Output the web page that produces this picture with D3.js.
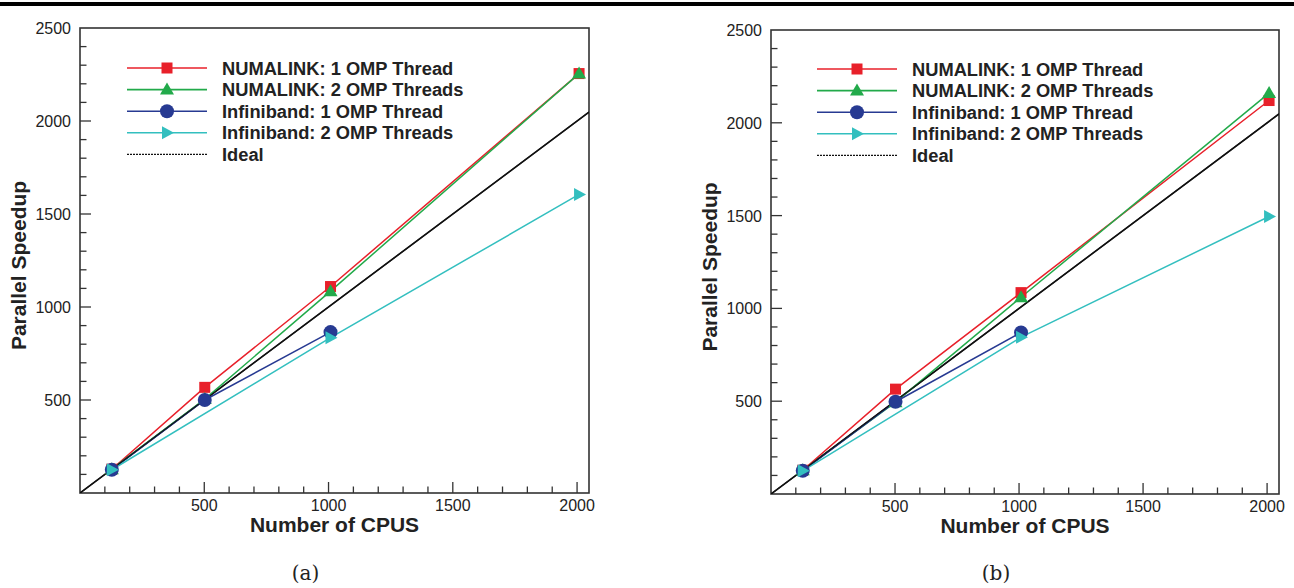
<!DOCTYPE html>
<html><head><meta charset="utf-8">
<script src="https://cdn.jsdelivr.net/npm/d3@7"></script>
<style>body{margin:0;background:#fff;}svg{display:block;font-family:"Liberation Sans",Arial,Helvetica,sans-serif;}</style>
</head><body>
<svg id="c" width="1294" height="588"></svg>
<script>
// ---- data ----
const seriesNames = ["NUMALINK: 1 OMP Thread","NUMALINK: 2 OMP Threads","Infiniband: 1 OMP Thread","Infiniband: 2 OMP Threads","Ideal"];
const seriesColors = ["#e8202a","#22aa4a","#273a92","#33bfbf","#111111"];
const seriesMarkers = ["square","triangle","circle","arrow","none"];
const xTicks = [500,1000,1500,2000];
const yTicks = [500,1000,1500,2000,2500];
const idealX = [0,2048];

// panel (a)
const aCpus4 = [128,502,1008,2008];
const aCpus3 = [128,502,1008];
const aCpus3b = [128,1008,2008];
const aNuma1 = [128,568,1110,2255];
const aNuma2 = [128,505,1085,2255];
const aInfi1 = [125,500,865];
const aInfi2 = [125,835,1605];

// panel (b)
const bCpus4 = [128,502,1008,2008];
const bCpus3 = [128,502,1008];
const bCpus3b = [128,1008,2008];
const bNuma1 = [128,565,1085,2120];
const bNuma2 = [128,495,1060,2160];
const bInfi1 = [125,497,870];
const bInfi2 = [125,845,1495];

const svg = d3.select("#c");
svg.append("rect").attr("x",0).attr("y",2).attr("width",1294).attr("height",4).attr("fill","#000");

function marker(g, type, x, y, color){
  if(type==="square") g.append("rect").attr("x",x-5.5).attr("y",y-5.5).attr("width",11).attr("height",11).attr("fill",color);
  else if(type==="triangle") g.append("path").attr("d",`M${x},${y-7}L${x+7},${y+5}L${x-7},${y+5}Z`).attr("fill",color);
  else if(type==="circle") g.append("circle").attr("cx",x).attr("cy",y).attr("r",7).attr("fill",color);
  else if(type==="arrow") g.append("path").attr("d",`M${x+7},${y}L${x-5},${y-6.5}L${x-5},${y+6.5}Z`).attr("fill",color);
}

function panel(cfg){
  const x = d3.scaleLinear().domain([0,2048]).range([cfg.x0,cfg.x1]);
  const y = d3.scaleLinear().domain([0,2500]).range([cfg.y1,cfg.y0]);
  const g = svg.append("g");
  const cid = "clip"+cfg.id;
  svg.append("clipPath").attr("id",cid).append("rect").attr("x",cfg.x0).attr("y",cfg.y0).attr("width",cfg.x1-cfg.x0).attr("height",cfg.y1-cfg.y0);

  const xt = d3.range(100,2048,100);
  g.selectAll(".xt").data(xt).join("line")
    .attr("x1",d=>x(d)).attr("x2",d=>x(d)).attr("y1",cfg.y1).attr("y2",d=>cfg.y1-(d%500===0?11:6.5))
    .attr("stroke","#333").attr("stroke-width",1.3);
  const yt = d3.range(100,2500,100);
  g.selectAll(".yt").data(yt).join("line")
    .attr("y1",d=>y(d)).attr("y2",d=>y(d)).attr("x1",cfg.x0).attr("x2",d=>cfg.x0+(d%500===0?11:6.5))
    .attr("stroke","#333").attr("stroke-width",1.3);
  g.append("rect").attr("x",cfg.x0).attr("y",cfg.y0).attr("width",cfg.x1-cfg.x0).attr("height",cfg.y1-cfg.y0)
    .attr("fill","none").attr("stroke","#333").attr("stroke-width",1.6);

  g.selectAll(".xl").data(xTicks).join("text").attr("x",d=>x(d)).attr("y",cfg.y1+18)
    .attr("text-anchor","middle").attr("font-size",16).attr("fill","#222").text(d=>d);
  g.selectAll(".yl").data(yTicks).join("text").attr("x",cfg.x0-9).attr("y",d=>y(d)+6)
    .attr("text-anchor","end").attr("font-size",16).attr("fill","#222").text(d=>d);

  g.append("text").attr("x",(cfg.x0+cfg.x1)/2).attr("y",cfg.y1+39).attr("text-anchor","middle")
    .attr("font-size",21).attr("font-weight","bold").attr("fill","#222").text("Number of CPUS");
  g.append("text").attr("transform",`translate(${cfg.x0-54},${(cfg.y0+cfg.y1)/2+5}) rotate(-90)`).attr("text-anchor","middle")
    .attr("font-size",21).attr("font-weight","bold").attr("fill","#222").text("Parallel Speedup");
  g.append("text").attr("x",(cfg.x0+cfg.x1)/2-29).attr("y",580).attr("text-anchor","middle")
    .attr("font-family","'DejaVu Serif','Liberation Serif',serif").attr("font-size",20).attr("fill","#222").text(cfg.caption);

  const line = d3.line().x(d=>x(d[0])).y(d=>y(d[1]));
  const pg = g.append("g").attr("clip-path",`url(#${cid})`);
  pg.append("path").datum(idealX.map(v=>[v,v])).attr("d",line).attr("fill","none").attr("stroke",seriesColors[4]).attr("stroke-width",1.6);
  [0,1,2,3].forEach(i=>{
    const s = cfg.series[i];
    const pts = s.xs.map((v,k)=>[v,s.ys[k]]);
    pg.append("path").datum(pts).attr("d",line).attr("fill","none").attr("stroke",seriesColors[i]).attr("stroke-width",1.5);
  });
  [0,1,2,3].forEach(i=>{
    const s = cfg.series[i];
    s.xs.forEach((v,k)=>marker(g,seriesMarkers[i],x(v),y(s.ys[k]),seriesColors[i]));
  });
  pg.append("path").datum(idealX.map(v=>[v,v])).attr("d",line).attr("fill","none").attr("stroke",seriesColors[4]).attr("stroke-width",1.3).attr("opacity",0.9);

  const lg = g.append("g");
  seriesNames.forEach((n,i)=>{
    const yy = cfg.ly + i*21.6;
    lg.append("line").attr("x1",cfg.lx).attr("x2",cfg.lx+80).attr("y1",yy).attr("y2",yy)
      .attr("stroke",seriesColors[i]).attr("stroke-width",i===4?1.2:1.6).attr("stroke-dasharray",i===4?"2,1":null);
    marker(lg,seriesMarkers[i],cfg.lx+40,yy,seriesColors[i]);
    lg.append("text").attr("x",cfg.lx+95).attr("y",yy+6.5).attr("font-size",18.3).attr("font-weight","bold").attr("fill","#222").text(n);
  });
}

panel({id:"a",x0:80,x1:589,y0:28,y1:493,caption:"(a)",lx:127,ly:68,
  series:[{xs:aCpus4,ys:aNuma1},{xs:aCpus4,ys:aNuma2},{xs:aCpus3,ys:aInfi1},{xs:aCpus3b,ys:aInfi2}]});
panel({id:"b",x0:771,x1:1279,y0:30,y1:494,caption:"(b)",lx:817,ly:69,
  series:[{xs:bCpus4,ys:bNuma1},{xs:bCpus4,ys:bNuma2},{xs:bCpus3,ys:bInfi1},{xs:bCpus3b,ys:bInfi2}]});
</script>
</body></html>
